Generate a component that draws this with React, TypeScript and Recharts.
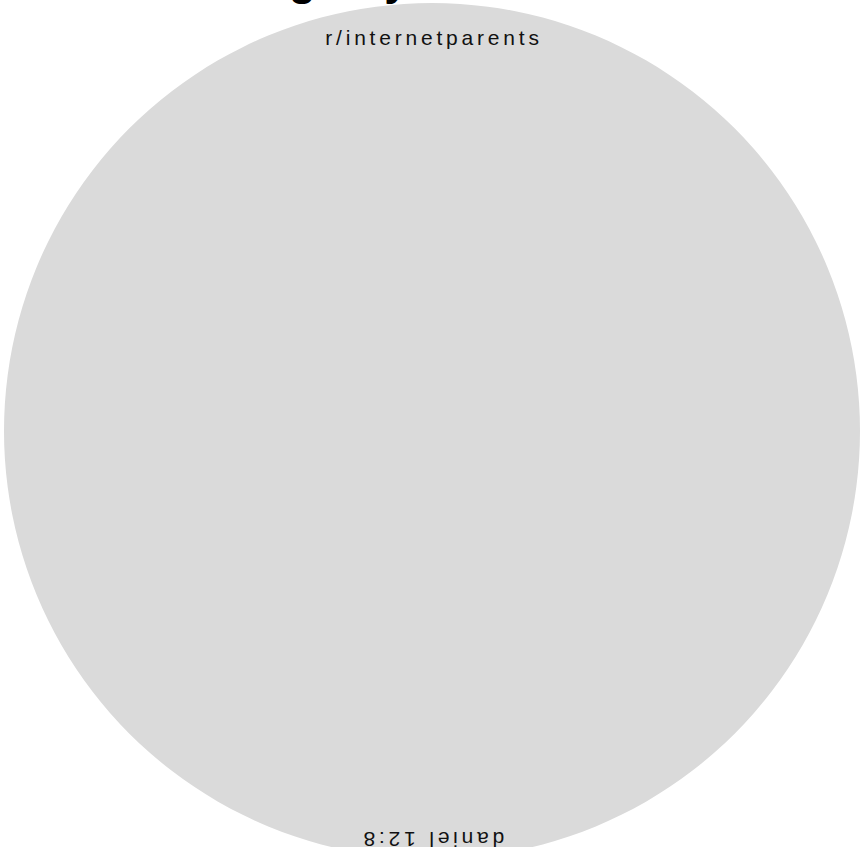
import React from 'react';
import { PieChart, Pie, Cell } from 'recharts';

const categories: string[] = ['r/internetparents'];
const values: number[] = [1];
const subLabels: string[] = ['daniel 12:8'];
const sliceColors: string[] = ['#dadada'];
const titleText = 'Trending Keywords';

const data = categories.map((name, i) => ({ name, value: values[i], sub: subLabels[i] }));

const labelFont = {
  fontFamily: '"Liberation Sans", Arial, Helvetica, sans-serif',
  fontSize: 21,
  letterSpacing: 3.8,
  fill: '#111111',
};

const renderLabel = (props: any) => {
  const { cx, cy, outerRadius } = props;
  const name = props.name ?? props.payload?.name;
  const sub = props.payload?.sub ?? props.payload?.payload?.sub ?? subLabels[0];
  const topY = cy - outerRadius + 42;
  const botY = cy + outerRadius - 27;
  return (
    <g>
      <text x={cx + 2} y={topY} textAnchor="middle" {...labelFont}>
        {name}
      </text>
      <text
        x={cx}
        y={botY}
        textAnchor="middle"
        transform={`rotate(180 ${cx} ${botY})`}
        {...labelFont}
      >
        {sub}
      </text>
    </g>
  );
};

export default function App() {
  return (
    <div style={{ position: 'absolute', left: 0, top: 0, width: 865, height: 847, overflow: 'hidden', background: '#ffffff' }}>
      <PieChart width={865} height={860} margin={{ top: 0, right: 0, bottom: 0, left: 0 }}>
        <Pie
          data={data}
          dataKey="value"
          nameKey="name"
          cx={432}
          cy={431}
          innerRadius={0}
          outerRadius={428}
          startAngle={90}
          endAngle={-270}
          stroke="none"
          label={renderLabel}
          labelLine={false}
          isAnimationActive={false}
        >
          {data.map((d, i) => (
            <Cell key={d.name} fill={sliceColors[i % sliceColors.length]} />
          ))}
        </Pie>
      </PieChart>
      <svg width={865} height={20} style={{ position: 'absolute', left: 0, top: 0 }}>
        <text
          x={130}
          y={-5}
          fontFamily='"Liberation Sans", Arial, Helvetica, sans-serif'
          fontWeight="bold"
          fontSize={44}
          fill="#000000"
        >
          {titleText}
        </text>
      </svg>
    </div>
  );
}
